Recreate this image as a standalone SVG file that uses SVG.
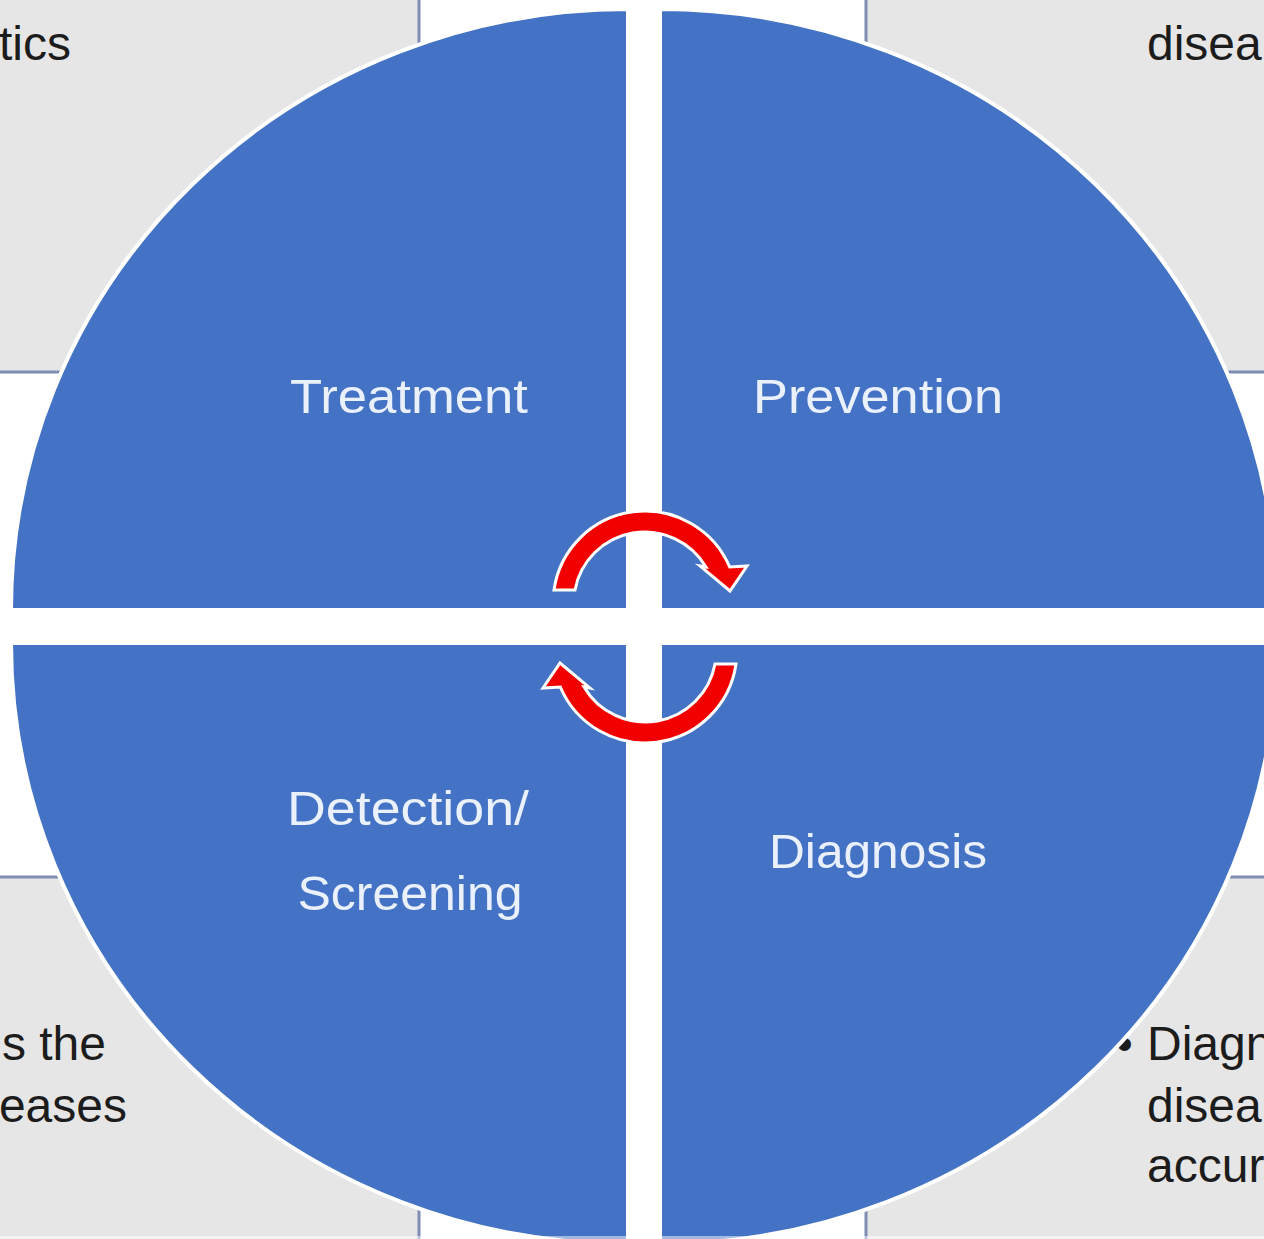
<svg xmlns="http://www.w3.org/2000/svg" width="1264" height="1239" viewBox="0 0 1264 1239">
  <style>
    .box { fill: #e7e6e6; stroke: #7f8cb4; stroke-width: 3; }
    .quad { fill: #4472c4; stroke: #ffffff; stroke-width: 4; }
    .qlabel { font-family: "Liberation Sans", Arial, sans-serif; font-size: 48px; fill: #eaf1fc; text-anchor: middle; }
    .body { font-family: "Liberation Sans", Arial, sans-serif; font-size: 48px; fill: #1c1c1c; }
    .arrow { fill: #f20000; stroke: #ffffff; stroke-width: 3; stroke-linejoin: miter; }
  </style>
  <defs>
    <path id="cycle-arrow" d="M575,590 L554,590 A92,92 0 0 1 729.7,567 L747,566 L730,591 L700,566 L706,567 A71,71 0 0 0 575,590 Z"/>
  </defs>
  <rect x="0" y="0" width="1264" height="1239" fill="#ffffff"/>

  <g id="box-top-left">
    <rect class="box" x="-10" y="-10" width="429" height="382"/>
    <text class="body" x="71" y="60" text-anchor="end">tics</text>
  </g>
  <g id="box-top-right">
    <rect class="box" x="866" y="-10" width="420" height="382"/>
    <text class="body" x="1147" y="60">disea</text>
  </g>
  <g id="box-bottom-left">
    <rect class="box" x="-10" y="877" width="429" height="380"/>
    <text class="body" x="106" y="1060" text-anchor="end">s the</text>
    <text class="body" x="127" y="1122" text-anchor="end">eases</text>
  </g>
  <g id="box-bottom-right">
    <rect class="box" x="866" y="877" width="420" height="380"/>
    <text class="body" x="1116" y="1060">•</text>
    <text class="body" x="1147" y="1060">Diagn</text>
    <text class="body" x="1147" y="1122">disea</text>
    <text class="body" x="1147" y="1182">accur</text>
  </g>

  <g id="node-treatment">
    <path class="quad" d="M628,610 L11,610 A617,601 0 0 1 628,9 Z"/>
    <text class="qlabel" x="409" y="413" textLength="238" lengthAdjust="spacingAndGlyphs">Treatment</text>
  </g>
  <g id="node-prevention">
    <path class="quad" d="M660,610 L660,9 A617,601 0 0 1 1277,610 Z"/>
    <text class="qlabel" x="878" y="413" textLength="250" lengthAdjust="spacingAndGlyphs">Prevention</text>
  </g>
  <g id="node-detection">
    <path class="quad" d="M628,643 L628,1244 A617,601 0 0 1 11,643 Z"/>
    <text class="qlabel" x="408" y="825" textLength="242" lengthAdjust="spacingAndGlyphs">Detection/</text>
    <text class="qlabel" x="410" y="910" textLength="225" lengthAdjust="spacingAndGlyphs">Screening</text>
  </g>
  <g id="node-diagnosis">
    <path class="quad" d="M660,643 L1277,643 A617,601 0 0 1 660,1244 Z"/>
    <text class="qlabel" x="878" y="868" textLength="218" lengthAdjust="spacingAndGlyphs">Diagnosis</text>
  </g>

  <rect x="0" y="1236" width="1264" height="3" fill="#ffffff" opacity="0.5"/>

  <g id="connectors">
    <use href="#cycle-arrow" class="arrow"/>
    <use href="#cycle-arrow" class="arrow" transform="rotate(180 645 627)"/>
  </g>
</svg>
